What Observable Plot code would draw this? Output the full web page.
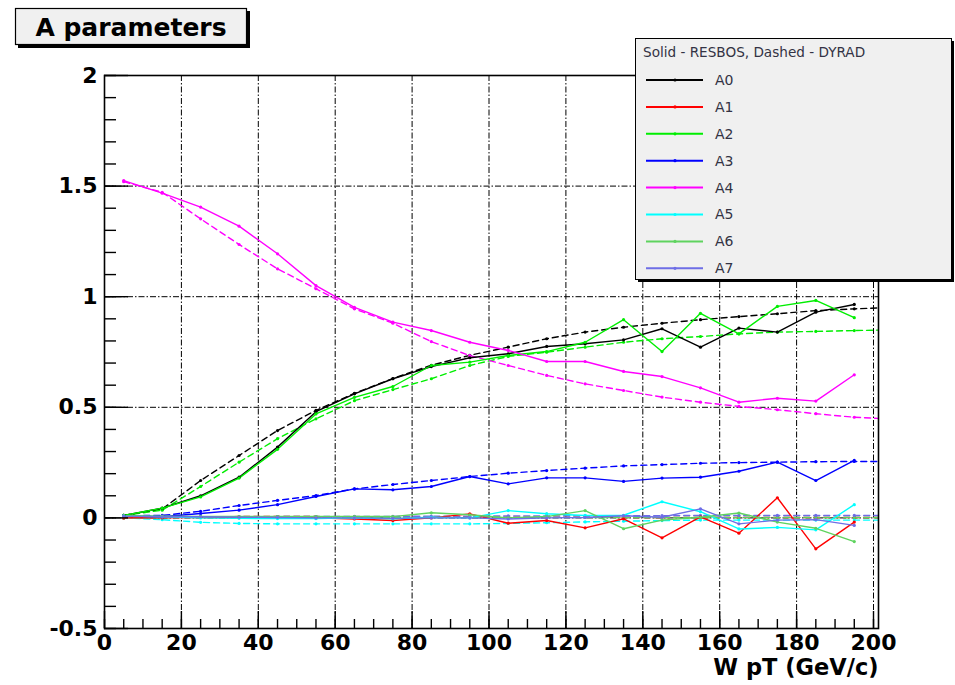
<!DOCTYPE html>
<html>
<head>
<meta charset="utf-8">
<script src="https://cdn.jsdelivr.net/npm/d3@7"></script>
<script src="https://cdn.jsdelivr.net/npm/@observablehq/plot@0.6"></script>
<style>
  body { margin: 0; background: #fff; }
  #wrap { position: relative; width: 955px; height: 685px; overflow: hidden; }
  #chart { position: absolute; left: 0; top: 0; }
  #overlay { position: absolute; left: 0; top: 0; pointer-events: none; }
</style>
</head>
<body>
<div id="wrap">
  <div id="chart"></div>
  <svg id="overlay" width="955" height="685"></svg>
</div>
<script>
// ---------------- data ----------------
const titleText = "A parameters";
const xLabel = "W pT (GeV/c)";
const legendHeader = "Solid - RESBOS, Dashed - DYRAD";

const xMajorTicks = [0, 20, 40, 60, 80, 100, 120, 140, 160, 180, 200];
const xMinorTicks = d3.range(0, 201, 5);
const xGridLines = [20, 40, 60, 80, 100, 120, 140, 160, 180, 200];
const yMajorTicks = [-0.5, 0, 0.5, 1, 1.5, 2];
const yMinorTicks = d3.range(-5, 21).map(d => d / 10);
const yGridLines = [0, 0.5, 1, 1.5];

const seriesNames = ["A0", "A1", "A2", "A3", "A4", "A5", "A6", "A7"];
const seriesColors = ["#000000", "#ff0000", "#00ee00", "#0000ff", "#ff00ff", "#00ffff", "#5fd35f", "#6e6ee6"];

// bin centres
const xResbos = [5, 15, 25, 35, 45, 55, 65, 75, 85, 95, 105, 115, 125, 135, 145, 155, 165, 175, 185, 195];
const xDyrad  = [5, 15, 25, 35, 45, 55, 65, 75, 85, 95, 105, 115, 125, 135, 145, 155, 165, 175, 185, 195, 205];

// RESBOS (solid)
const resbosA0 = [0.011, 0.044, 0.100, 0.184, 0.320, 0.480, 0.561, 0.629, 0.684, 0.724, 0.742, 0.775, 0.787, 0.805, 0.855, 0.772, 0.858, 0.840, 0.930, 0.965];
const resbosA1 = [0.000, 0.000, 0.003, 0.002, 0.002, 0.000, -0.005, -0.012, 0.000, 0.018, -0.024, -0.012, -0.045, -0.004, -0.090, 0.005, -0.069, 0.091, -0.140, -0.019];
const resbosA2 = [0.011, 0.044, 0.095, 0.180, 0.310, 0.470, 0.545, 0.594, 0.689, 0.704, 0.734, 0.752, 0.794, 0.896, 0.752, 0.925, 0.832, 0.956, 0.983, 0.905];
const resbosA3 = [0.010, 0.005, 0.020, 0.035, 0.060, 0.097, 0.131, 0.127, 0.142, 0.187, 0.154, 0.181, 0.181, 0.165, 0.180, 0.184, 0.211, 0.252, 0.169, 0.260];
const resbosA4 = [1.525, 1.468, 1.405, 1.319, 1.194, 1.050, 0.952, 0.885, 0.847, 0.794, 0.757, 0.707, 0.707, 0.662, 0.639, 0.588, 0.523, 0.541, 0.528, 0.647];
const resbosA5 = [0.010, 0.005, 0.000, -0.002, -0.003, -0.003, 0.000, -0.004, 0.003, 0.000, 0.033, 0.019, 0.011, 0.012, 0.073, 0.028, -0.050, -0.043, -0.054, 0.060];
const resbosA6 = [0.010, 0.008, 0.007, 0.006, 0.006, 0.006, 0.006, 0.006, 0.023, 0.014, 0.000, 0.006, 0.033, -0.049, -0.010, 0.003, 0.022, -0.019, -0.047, -0.107];
const resbosA7 = [0.008, 0.005, 0.005, 0.003, 0.002, 0.000, 0.000, -0.002, 0.000, 0.000, -0.005, 0.000, 0.002, 0.010, 0.003, 0.041, -0.027, -0.010, -0.008, -0.034];

// DYRAD (dashed)
const dyradA0 = [0.011, 0.040, 0.169, 0.282, 0.395, 0.486, 0.563, 0.630, 0.690, 0.735, 0.772, 0.810, 0.840, 0.862, 0.880, 0.896, 0.910, 0.923, 0.937, 0.945, 0.952];
const dyradA1 = [0.000, 0.003, 0.005, 0.006, 0.006, 0.006, 0.005, 0.005, 0.004, 0.004, 0.003, 0.003, 0.003, 0.002, 0.002, 0.002, 0.002, 0.002, 0.002, 0.002, 0.002];
const dyradA2 = [0.011, 0.035, 0.142, 0.252, 0.358, 0.448, 0.530, 0.580, 0.629, 0.689, 0.730, 0.749, 0.772, 0.794, 0.810, 0.820, 0.832, 0.840, 0.843, 0.847, 0.850];
const dyradA3 = [0.010, 0.011, 0.030, 0.056, 0.079, 0.101, 0.131, 0.151, 0.169, 0.187, 0.202, 0.214, 0.225, 0.235, 0.241, 0.247, 0.250, 0.252, 0.254, 0.255, 0.255];
const dyradA4 = [1.520, 1.472, 1.352, 1.236, 1.126, 1.036, 0.945, 0.880, 0.797, 0.734, 0.689, 0.644, 0.606, 0.576, 0.546, 0.523, 0.504, 0.489, 0.471, 0.455, 0.447];
const dyradA5 = [0.000, -0.008, -0.020, -0.025, -0.027, -0.027, -0.027, -0.027, -0.027, -0.027, -0.025, -0.022, -0.018, -0.015, -0.012, -0.010, -0.010, -0.010, -0.010, -0.010, -0.010];
const dyradA6 = [0.000, 0.001, 0.002, 0.002, 0.002, 0.002, 0.002, 0.002, 0.002, 0.002, 0.002, 0.002, 0.002, 0.002, 0.002, 0.002, 0.002, 0.002, 0.002, 0.002, 0.002];
const dyradA7 = [0.004, 0.004, 0.005, 0.005, 0.006, 0.006, 0.007, 0.007, 0.008, 0.008, 0.009, 0.009, 0.010, 0.010, 0.010, 0.011, 0.011, 0.011, 0.011, 0.011, 0.011];

const resbosSeries = [resbosA0, resbosA1, resbosA2, resbosA3, resbosA4, resbosA5, resbosA6, resbosA7];
const dyradSeries  = [dyradA0, dyradA1, dyradA2, dyradA3, dyradA4, dyradA5, dyradA6, dyradA7];

// ---------------- tables ----------------
const resbos = seriesNames.flatMap((name, k) => resbosSeries[k].map((v, i) => ({x: xResbos[i], y: v, series: name})));
const dyrad  = seriesNames.flatMap((name, k) => dyradSeries[k].map((v, i) => ({x: xDyrad[i], y: v, series: name})));

// ---------------- chart ----------------
const gridDash = "6,2,1.5,2";
const fontFam = "DejaVu Sans, Liberation Sans, sans-serif";

const chart = Plot.plot({
  width: 955,
  height: 685,
  marginTop: 75,
  marginBottom: 57,
  marginLeft: 104,
  marginRight: 77,
  style: {fontFamily: fontFam, background: "#fff", color: "#000"},
  x: {domain: [0, 201.3], axis: null},
  y: {domain: [-0.5, 2], axis: null},
  color: {domain: seriesNames, range: seriesColors},
  marks: [
    Plot.ruleX(xGridLines, {stroke: "#000", strokeWidth: 1, strokeDasharray: gridDash}),
    Plot.ruleY(yGridLines, {stroke: "#000", strokeWidth: 1, strokeDasharray: gridDash}),
    Plot.line(dyrad, {x: "x", y: "y", z: "series", stroke: "series", strokeWidth: 1.4, strokeDasharray: "6,4", clip: true}),
    Plot.dot(dyrad, {x: "x", y: "y", fill: "series", r: 1.6, clip: true}),
    Plot.line(resbos, {x: "x", y: "y", z: "series", stroke: "series", strokeWidth: 1.4, clip: true}),
    Plot.dot(resbos, {x: "x", y: "y", fill: "series", r: 1.6, clip: true}),
    Plot.frame({stroke: "#000", strokeWidth: 1.6}),
    Plot.axisX({ticks: xMinorTicks, tickSize: -9, tickFormat: () => "", label: null, strokeWidth: 1.4}),
    Plot.axisX({ticks: xMajorTicks, tickSize: -17, tickFormat: () => "", label: null, strokeWidth: 1.4}),
    Plot.axisX({ticks: xMajorTicks, tickSize: 0, tickPadding: 6, label: null, fontSize: 22, fontWeight: "bold", tickFormat: d => String(d)}),
    Plot.axisY({ticks: yMinorTicks, tickSize: -12, tickFormat: () => "", label: null, strokeWidth: 1.4}),
    Plot.axisY({ticks: yMajorTicks, tickSize: -24, tickFormat: () => "", label: null, strokeWidth: 1.4}),
    Plot.axisY({ticks: yMajorTicks, tickSize: 0, tickPadding: 7, label: null, fontSize: 22, fontWeight: "bold", tickFormat: d => String(d)}),
    Plot.text([xLabel], {text: d => d, frameAnchor: "bottom-right", textAnchor: "end", dy: 46, fontSize: 22.5, fontWeight: "bold", fill: "#000"})
  ]
});
document.getElementById("chart").appendChild(chart);

// ---------------- title box & legend ----------------
const ov = d3.select("#overlay").style("font-family", fontFam);

// title box
ov.append("rect").attr("x", 18).attr("y", 11).attr("width", 232).attr("height", 37).attr("fill", "#000");
ov.append("rect").attr("x", 15.5).attr("y", 8.5).attr("width", 231).attr("height", 36).attr("fill", "#f0f0f0").attr("stroke", "#000").attr("stroke-width", 1.2);
ov.append("text").attr("x", 131).attr("y", 36).attr("text-anchor", "middle")
  .attr("font-size", 25).attr("font-weight", "bold").attr("fill", "#000").text(titleText);

// legend box
const lx = 635, ly = 38, lw = 316, lh = 241;
ov.append("rect").attr("x", lx + 3).attr("y", ly + 3).attr("width", lw).attr("height", lh).attr("fill", "#000");
ov.append("rect").attr("x", lx + 0.5).attr("y", ly + 0.5).attr("width", lw).attr("height", lh).attr("fill", "#f0f0f0").attr("stroke", "#000").attr("stroke-width", 1);
ov.append("text").attr("x", lx + 8).attr("y", ly + 19).attr("font-size", 13.6).attr("fill", "#333344").text(legendHeader);

seriesNames.forEach((name, k) => {
  const yy = ly + 42 + k * 26.9;
  const g = ov.append("g");
  g.append("line").attr("x1", lx + 11).attr("x2", lx + 68).attr("y1", yy).attr("y2", yy)
    .attr("stroke", seriesColors[k]).attr("stroke-width", 2);
  g.append("circle").attr("cx", lx + 40).attr("cy", yy).attr("r", 1.6).attr("fill", seriesColors[k]);
  g.append("text").attr("x", lx + 80).attr("y", yy).attr("dy", "0.35em")
    .attr("font-size", 14).attr("fill", "#333344").text(name);
});
</script>
</body>
</html>
